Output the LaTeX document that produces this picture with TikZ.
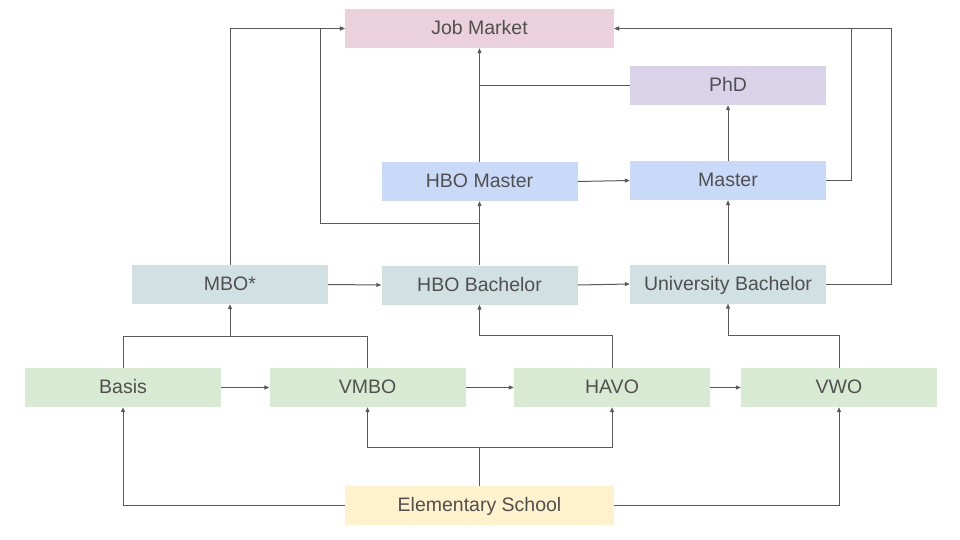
\documentclass[tikz,border=0pt]{standalone}
\usepackage{fontspec}
\setmainfont{Liberation Sans}
\usetikzlibrary{arrows.meta}
\definecolor{cpink}{HTML}{EAD1DC}
\definecolor{cpurp}{HTML}{D9D2E9}
\definecolor{cblue}{HTML}{C9DAF8}
\definecolor{cteal}{HTML}{D0E0E3}
\definecolor{cgreen}{HTML}{D9EAD3}
\definecolor{cyellow}{HTML}{FFF2CC}
\definecolor{txt}{HTML}{505050}
\definecolor{ln}{HTML}{595959}
\begin{document}
\begin{tikzpicture}[x=1pt,y=-1pt,
  box/.style={rectangle,inner sep=0pt,minimum height=39pt,text=txt,
    text height=15pt,text depth=3pt,font=\fontsize{19.5}{22}\selectfont},
  wbox/.style={box,minimum width=269pt},
  nbox/.style={box,minimum width=196pt},
  conn/.style={draw=ln,line width=1pt,-{Triangle[length=5pt,width=4pt]}},
  plain/.style={draw=ln,line width=1pt}]
\useasboundingbox (0,0) rectangle (960,540);
\fill[white] (0,0) rectangle (960,540);
\node[wbox,fill=cpink] (job) at (479.5,28.5) {Job Market};
\node[nbox,fill=cpurp] (phd) at (728,85.5) {PhD};
\node[nbox,fill=cblue] (hbom) at (479.5,181.5) {HBO Master};
\node[nbox,fill=cblue] (mas) at (728,180.5) {Master};
\node[nbox,fill=cteal] (mbo) at (230,284.5) {MBO*};
\node[nbox,fill=cteal] (hbob) at (479.5,285) {HBO Bachelor};
\node[nbox,fill=cteal] (ub) at (728,284) {University Bachelor};
\node[nbox,fill=cgreen] (basis) at (123,387.5) {Basis};
\node[nbox,fill=cgreen] (vmbo) at (367.5,387.5) {VMBO};
\node[nbox,fill=cgreen] (havo) at (612,387.5) {HAVO};
\node[nbox,fill=cgreen] (vwo) at (839,387.5) {VWO};
\node[wbox,fill=cyellow] (elem) at (479.5,505.5) {Elementary School};
\coordinate (ej) at (479.5,447);
\coordinate (bj) at (230,336);
\coordinate (hj) at (479.5,223);
\coordinate (hl) at (320,223);
% elementary
\draw[conn] (elem.west) -| (basis.south);
\draw[conn] (elem.east) -| (vwo.south);
\draw[plain] (elem.north) -- (ej);
\draw[conn] (ej) -| (vmbo.south);
\draw[conn] (ej) -| (havo.south);
% secondary row
\draw[conn] (basis.east) -- (vmbo.west);
\draw[conn] (vmbo.east) -- (havo.west);
\draw[conn] (havo.east) -- (vwo.west);
\draw[plain] (basis.north) |- (bj);
\draw[plain] (vmbo.north) |- (bj);
\draw[conn] (bj) -- (mbo.south);
\draw[conn] (havo.north) -- ++(0,-32) -| (hbob.south);
\draw[conn] (vwo.north) -- ++(0,-32) -| (ub.south);
% bachelor row
\draw[conn] (mbo.east) -- (hbob.west);
\draw[conn] (hbob.east) -- (ub.west);
\draw[conn] (mbo.north) |- (job.west);
\draw[conn] (hbob.north) -- (hbom.south);
\draw[conn] (hj) -- (hl) |- (job.west);
\draw[conn] (ub.north) -- (mas.south);
% master row
\draw[conn] (hbom.north) -- (hbom.north |- job.south);
\draw[plain] (phd.west) -- (phd.west -| hbom.north);
\draw[conn] (hbom.east) -- (mas.west);
\draw[conn] (mas.north) -- (phd.south);
\draw[conn] (mas.east) -- ++(25,0) |- (job.east);
\draw[conn] (ub.east) -- ++(65,0) |- (job.east);
\end{tikzpicture}
\end{document}
